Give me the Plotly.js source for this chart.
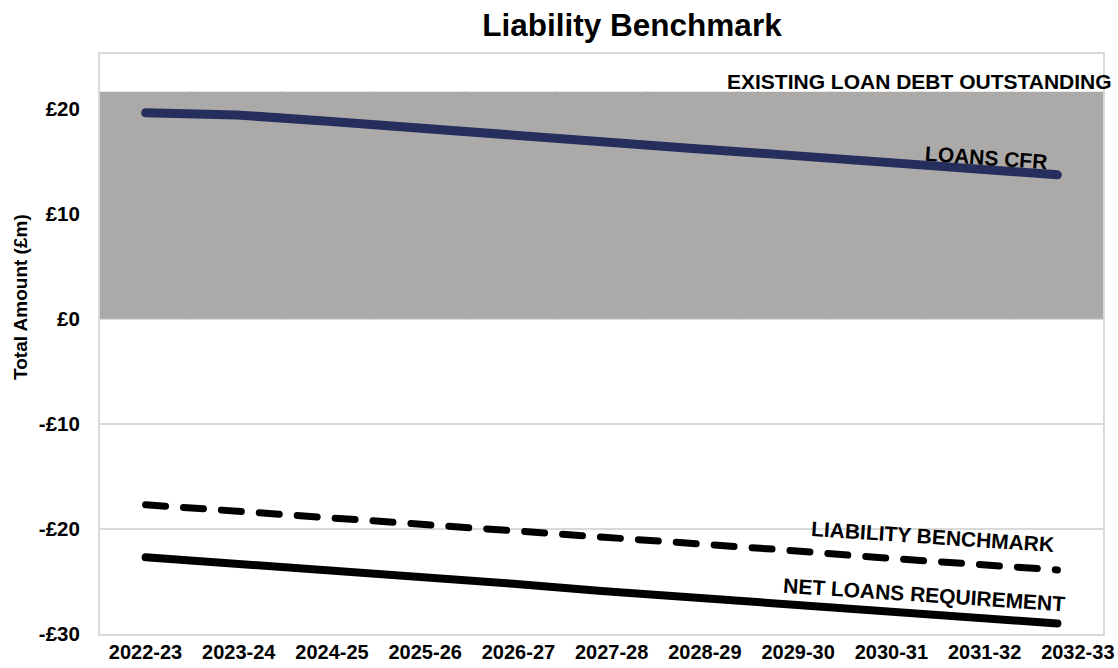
<!DOCTYPE html>
<html>
<head>
<meta charset="utf-8">
<script src="https://cdn.plot.ly/plotly-3.0.1.min.js"></script>
<style>
html,body{margin:0;padding:0;background:#fff;}
#chart{width:1118px;height:668px;}
.scatterlayer path.js-line{stroke-linecap:round;stroke-linejoin:round;}
</style>
</head>
<body>
<div id="chart"></div>
<script>
const years = ['2022-23','2023-24','2024-25','2025-26','2026-27','2027-28','2028-29','2029-30','2030-31','2031-32','2032-33'];
const existingLoanDebt = [21.6,21.6,21.6,21.6,21.6,21.6,21.6,21.6,21.6,21.6,21.6];
const loansCFR = [19.6,19.4,18.8,18.1,17.5,16.9,16.2,15.6,15.0,14.3,13.7];
const liabilityBenchmark = [-17.7,-18.3,-18.9,-19.6,-20.2,-20.8,-21.4,-22.0,-22.7,-23.3,-23.9];
const netLoansRequirement = [-22.7,-23.3,-23.9,-24.6,-25.2,-25.9,-26.5,-27.1,-27.7,-28.4,-29.0];
const yTickVals = [20,10,0,-10,-20,-30];
const yTickText = ['£20','£10','£0','-£10','-£20','-£30'];
const yearIndex = years.map((_, i) => i);

const FONT = 'Liberation Sans, Arial, sans-serif';

const traces = [
  {type:'bar', x:years, y:existingLoanDebt, width:1.04, marker:{color:'#abaaa9', line:{width:0}}, name:'Existing Loan Debt Outstanding', hoverinfo:'y'},
  {type:'scatter', mode:'lines', x:years, y:loansCFR, line:{color:'#252e5c', width:9}, name:'Loans CFR'},
  {type:'scatter', mode:'lines', x:years, y:liabilityBenchmark, line:{color:'#000000', width:7, dash:'20px,18px'}, name:'Liability Benchmark'},
  {type:'scatter', mode:'lines', x:years, y:netLoansRequirement, line:{color:'#000000', width:8}, name:'Net Loans Requirement'},
  {type:'scatter', mode:'markers', x:yearIndex, y:netLoansRequirement, xaxis:'x2', marker:{opacity:0, size:1}, hoverinfo:'skip', showlegend:false}
];

const tickFont = {family:FONT, size:20, color:'#000', weight:700};
const annFont = {family:FONT, size:21, color:'#000', weight:700};
const layout = {
  width:1118, height:668,
  margin:{l:100, r:15, t:54, b:34},
  paper_bgcolor:'#fff', plot_bgcolor:'#fff',
  showlegend:false,
  barmode:'overlay',
  title:{text:'Liability Benchmark', font:{family:FONT, size:31.5, color:'#000', weight:700}, x:632/1118, xref:'container', xanchor:'center', y:1-25/668, yref:'container', yanchor:'middle'},
  xaxis:{type:'category', range:[-0.5,10.5], showgrid:false, zeroline:false, showline:true, mirror:true, linecolor:'#d9d9d9', linewidth:2, ticks:'', showticklabels:false, fixedrange:true},
  xaxis2:{overlaying:'x', anchor:'y', side:'bottom', type:'linear', range:[-0.488,10.27], tickvals:yearIndex, ticktext:years, showgrid:false, zeroline:false, showline:false, ticks:'', tickfont:tickFont, ticklabelstandoff:4, fixedrange:true},
  yaxis:{range:[-30,25.2], tickvals:yTickVals, ticktext:yTickText, showgrid:true, gridcolor:'#d9d9d9', gridwidth:2, zeroline:false, showline:true, mirror:true, linecolor:'#d9d9d9', linewidth:2, ticks:'', tickfont:{family:FONT, size:20.5, color:'#000', weight:700}, ticklabelstandoff:14, fixedrange:true},
  annotations:[
    {text:'Total Amount (£m)', xref:'paper', yref:'paper', x:-80/1003, xanchor:'center', y:(634-297)/580, yanchor:'middle', textangle:-90, showarrow:false, font:{family:FONT, size:19, color:'#000', weight:700}},
    {text:'EXISTING LOAN DEBT OUTSTANDING', xref:'paper', yref:'paper', x:(919-100)/1003, y:(634-81)/580, xanchor:'center', yanchor:'middle', showarrow:false, font:annFont},
    {text:'LOANS CFR', xref:'paper', yref:'paper', x:(986-100)/1003, y:(634-157)/580, xanchor:'center', yanchor:'middle', textangle:4, showarrow:false, font:annFont},
    {text:'LIABILITY BENCHMARK', xref:'paper', yref:'paper', x:(932-100)/1003, y:(634-536)/580, xanchor:'center', yanchor:'middle', textangle:3.8, showarrow:false, font:annFont},
    {text:'NET LOANS REQUIREMENT', xref:'paper', yref:'paper', x:(924-100)/1003, y:(634-594)/580, xanchor:'center', yanchor:'middle', textangle:3.8, showarrow:false, font:annFont}
  ]
};

Plotly.newPlot('chart', traces, layout, {displayModeBar:false, staticPlot:true});
</script>
</body>
</html>
